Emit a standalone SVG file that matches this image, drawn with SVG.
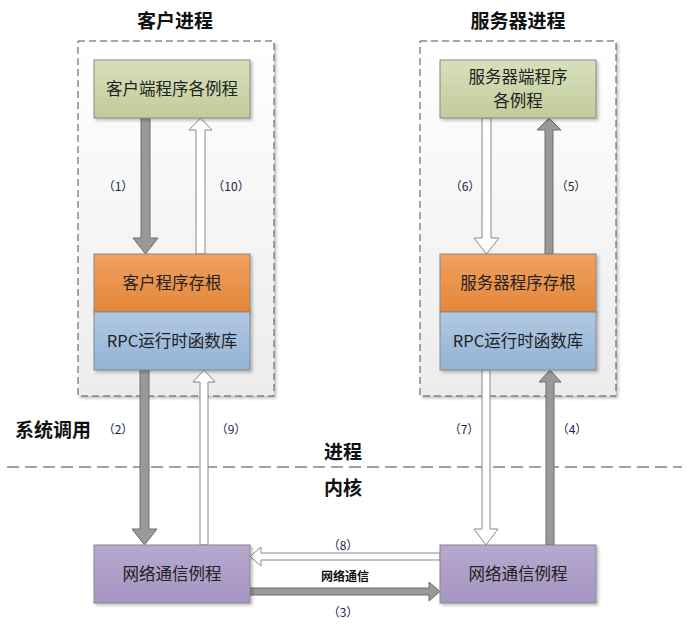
<svg xmlns="http://www.w3.org/2000/svg" width="687" height="626" viewBox="0 0 687 626">
<defs>
<linearGradient id="gBox" x1="0" y1="0" x2="0" y2="1"><stop offset="0" stop-color="#ffffff"/><stop offset="1" stop-color="#ececec"/></linearGradient>
<linearGradient id="gGreen" x1="0" y1="0" x2="0" y2="1"><stop offset="0" stop-color="#d8e0bc"/><stop offset="1" stop-color="#c2cb9a"/></linearGradient>
<linearGradient id="gOrange" x1="0" y1="0" x2="0" y2="1"><stop offset="0" stop-color="#f0a060"/><stop offset="1" stop-color="#e4873a"/></linearGradient>
<linearGradient id="gBlue" x1="0" y1="0" x2="0" y2="1"><stop offset="0" stop-color="#b0c8e2"/><stop offset="1" stop-color="#93b3d6"/></linearGradient>
<linearGradient id="gPurple" x1="0" y1="0" x2="0" y2="1"><stop offset="0" stop-color="#b7a9cf"/><stop offset="1" stop-color="#a595c2"/></linearGradient>
<filter id="sh" x="-10%" y="-10%" width="130%" height="130%"><feDropShadow dx="2" dy="2" stdDeviation="1.5" flood-color="#000" flood-opacity="0.25"/></filter>
</defs>
<style>
.cont{fill:url(#gBox);stroke:#555;stroke-width:1;stroke-dasharray:7,4;filter:url(#sh)}
.node{stroke:#888;stroke-width:1;filter:url(#sh)}
.nt{font-family:"Microsoft YaHei","Noto Sans CJK SC","Noto Sans",sans-serif;font-size:16.5px;fill:#222;text-anchor:middle}
.title{font-family:"SimHei","Noto Sans CJK SC",sans-serif;font-size:19px;font-weight:bold;fill:#111;text-anchor:middle}
.sub{font-family:"SimHei","Noto Sans CJK SC",sans-serif;font-size:19px;font-weight:bold;fill:#111;text-anchor:middle}
.lbl{font-family:"Noto Sans CJK SC","Noto Sans",sans-serif;font-size:12px;fill:#1a2440;text-anchor:middle}
.dark{fill:#999;stroke:#6e6e6e;stroke-width:1}
.light{fill:#fff;stroke:#888;stroke-width:1}
</style>
<rect x="0" y="0" width="687" height="626" fill="#fff"/>
<text class="title" x="175" y="28">客户进程</text>
<text class="title" x="518" y="28">服务器进程</text>
<rect class="cont" x="78" y="41" width="196" height="355"/>
<rect class="cont" x="420" y="41" width="196" height="355"/>
<line x1="7" y1="467" x2="682" y2="467" stroke="#444" stroke-width="1.2" stroke-dasharray="12,6"/>
<text class="sub" x="53" y="437">系统调用</text>
<text class="sub" x="343" y="459">进程</text>
<text class="sub" x="343" y="495">内核</text>
<g id="connectors">
<polygon class="dark" points="141,118 150,118 150,238 158,238 145.5,254 133,238 141,238"/>
<polygon class="light" points="196,254 205,254 205,130 212,130 200.5,118 189,130 196,130"/>
<polygon class="light" points="482,118 491,118 491,238 499,238 486.5,254 474,238 482,238"/>
<polygon class="dark" points="545,254 553,254 553,130 561,130 549,118 537,130 545,130"/>
<polygon class="dark" points="140,370 149,370 149,529 157,529 144.5,545 132,529 140,529"/>
<polygon class="light" points="200,545 208,545 208,382 215,382 204,370 193,382 200,382"/>
<polygon class="light" points="482,370 490,370 490,529 498,529 486,545 474,529 482,529"/>
<polygon class="dark" points="546,545 554,545 554,382 561,382 550,370 539,382 546,382"/>
<polygon class="light" points="440,553 261,553 261,547 250,556.5 261,566 261,560 440,560"/>
<polygon class="dark" points="250,588 429,588 429,582 440,591.5 429,601 429,595 250,595"/>
<text class="lbl" x="118" y="191">（1）</text>
<text class="lbl" x="231" y="191">（10）</text>
<text class="lbl" x="465" y="191">（6）</text>
<text class="lbl" x="571" y="191">（5）</text>
<text class="lbl" x="118" y="434">（2）</text>
<text class="lbl" x="231" y="434">（9）</text>
<text class="lbl" x="464" y="434">（7）</text>
<text class="lbl" x="572" y="434">（4）</text>
<text class="lbl" x="343" y="550">（8）</text>
<text class="lbl" x="343" y="617">（3）</text>
<text x="345" y="581" font-family="SimHei,'Noto Sans CJK SC',sans-serif" font-size="12" font-weight="bold" fill="#111" text-anchor="middle">网络通信</text>
</g>
<g id="client-app"><rect class="node" x="94" y="60" width="156" height="58" fill="url(#gGreen)"/><text class="nt" x="172" y="95">客户端程序各例程</text></g>
<g id="client-stub"><rect class="node" x="94" y="254" width="156" height="58" fill="url(#gOrange)"/><text class="nt" x="172" y="289">客户程序存根</text></g>
<g id="client-rpc"><rect class="node" x="94" y="312" width="156" height="58" fill="url(#gBlue)"/><text class="nt" x="172" y="347">RPC运行时函数库</text></g>
<g id="server-app"><rect class="node" x="440" y="60" width="156" height="58" fill="url(#gGreen)"/><text class="nt" x="518" y="83">服务器端程序</text><text class="nt" x="518" y="107">各例程</text></g>
<g id="server-stub"><rect class="node" x="440" y="254" width="156" height="58" fill="url(#gOrange)"/><text class="nt" x="518" y="289">服务器程序存根</text></g>
<g id="server-rpc"><rect class="node" x="440" y="312" width="156" height="58" fill="url(#gBlue)"/><text class="nt" x="518" y="347">RPC运行时函数库</text></g>
<g id="client-net"><rect class="node" x="94" y="545" width="156" height="58" fill="url(#gPurple)"/><text class="nt" x="172" y="580">网络通信例程</text></g>
<g id="server-net"><rect class="node" x="440" y="545" width="156" height="58" fill="url(#gPurple)"/><text class="nt" x="518" y="580">网络通信例程</text></g>
</svg>
